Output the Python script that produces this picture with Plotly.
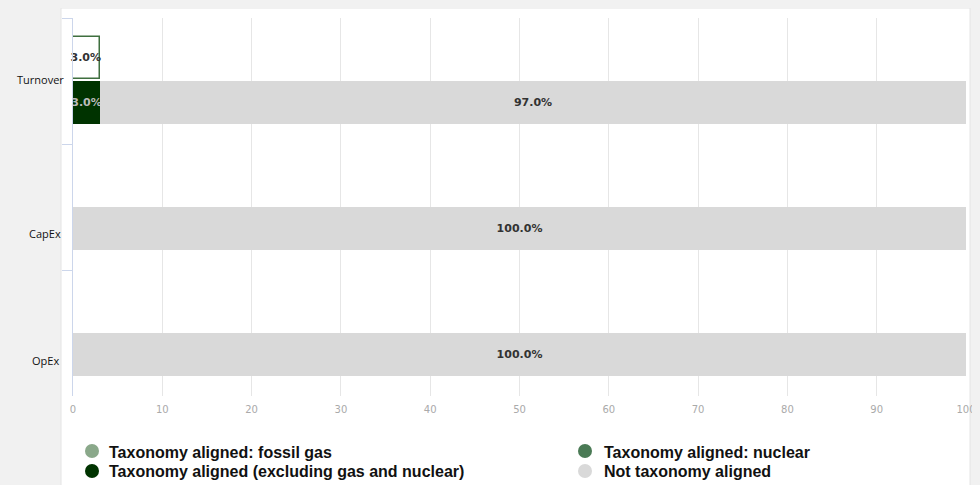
import plotly.graph_objects as go

categories = ["Turnover", "CapEx", "OpEx"]
aligned_excl = [3.0, 0.0, 0.0]
not_aligned = [97.0, 100.0, 100.0]
top_bar = [3.0, None, None]
legend_names = [
    "Taxonomy aligned: fossil gas",
    "Taxonomy aligned (excluding gas and nuclear)",
    "Taxonomy aligned: nuclear",
    "Not taxonomy aligned",
]
legend_colors = ["#8aa88a", "#003300", "#4a7a55", "#d9d9d9"]
x_ticks = [0, 10, 20, 30, 40, 50, 60, 70, 80, 90, 100]

# plot-area geometry (figure pixels)
L, R, T, B = 65, 958, 10, 388
PW, PH = R - L, B - T

def px(xf):
    return (xf - L) / PW

def py(yf):
    return (B - yf) / PH

def lbl(vals):
    return [f"{v:.1f}%" if (v is not None and v > 0) else "" for v in vals]

fig = go.Figure()
tf = dict(family="DejaVu Sans", size=11, color="#333333", weight="bold")

# upper bar (outlined)
fig.add_trace(go.Bar(
    y=categories, x=top_bar, base=0, orientation="h",
    offset=-0.35, width=0.335,
    marker=dict(color="#ffffff", line=dict(color="#3f6f3f", width=1.5)),
    text=lbl(top_bar), textposition="inside", insidetextanchor="middle",
    constraintext="none", textangle=0, textfont=tf, showlegend=False,
    hoverinfo="skip", cliponaxis=False))
# lower bars
fig.add_trace(go.Bar(
    y=categories, x=aligned_excl, base=0, orientation="h",
    offset=0.0, width=0.34,
    marker=dict(color="#003300", line=dict(width=0)),
    text=lbl(aligned_excl), textposition="inside", insidetextanchor="middle",
    constraintext="none", textangle=0,
    textfont=dict(family="DejaVu Sans", size=11, color="#bbbbbb", weight="bold"),
    showlegend=False, cliponaxis=False))
fig.add_trace(go.Bar(
    y=categories, x=not_aligned, base=aligned_excl, orientation="h",
    offset=0.0, width=0.34,
    marker=dict(color="#d9d9d9", line=dict(width=0)),
    text=lbl(not_aligned), textposition="inside", insidetextanchor="middle",
    constraintext="none", textangle=0, textfont=tf, showlegend=False,
    cliponaxis=False))

# white panel
fig.add_shape(type="rect", xref="paper", yref="paper",
              x0=px(53), x1=px(962), y0=py(490), y1=py(0),
              fillcolor="#ffffff", line=dict(color="#e4e4e4", width=1),
              layer="below")

# category labels
label_pos = [(58, 62, "right"), (37, 225, "center"), (37, 362, "center")]
for cat, (lx, ly, anc) in zip(categories, label_pos):
    fig.add_annotation(x=px(lx), xref="paper", y=py(ly), yref="paper",
                       text=cat, showarrow=False, xanchor=anc,
                       font=dict(family="Open Sans", size=11, color="#111111"))

# legend (two columns)
leg_text_x = [99, 99, 594, 594]
leg_mark_x = [84, 84, 577, 577]
leg_y = [444, 464, 444, 464]
for name, col, tx, mx, ly in zip(legend_names, legend_colors, leg_text_x, leg_mark_x, leg_y):
    fig.add_shape(type="circle", xref="paper", yref="paper",
                  xsizemode="pixel", ysizemode="pixel",
                  xanchor=px(mx), yanchor=py(ly - 1),
                  x0=-7, x1=7, y0=-7, y1=7,
                  fillcolor=col, line=dict(width=0))
    fig.add_annotation(x=px(tx), xref="paper", y=py(ly), yref="paper",
                       text=name, showarrow=False, xanchor="left", yanchor="middle",
                       font=dict(family="Liberation Sans", size=16, color="#111111",
                                 weight="bold"))

fig.update_layout(
    width=980, height=485,
    margin=dict(l=L, r=980 - R, t=T, b=485 - B, autoexpand=False),
    paper_bgcolor="#f1f1f1", plot_bgcolor="rgba(0,0,0,0)",
    barmode="overlay", bargap=0,
    font=dict(family="Liberation Sans"),
    showlegend=False,
    xaxis=dict(range=[0, 100], tickvals=x_ticks, showgrid=True, gridcolor="#e6e6e6",
               gridwidth=1, zeroline=False, showline=False, ticks="",
               tickfont=dict(family="DejaVu Sans", size=10, color="#aaaaaa"),
               ticklabelstandoff=6, fixedrange=True),
    yaxis=dict(type="category", categoryorder="array", categoryarray=categories,
               autorange="reversed", showticklabels=False, showgrid=False,
               showline=True, linecolor="#ccd6eb", linewidth=1,
               ticks="outside", tickson="boundaries", ticklen=10, tickcolor="#ccd6eb",
               zeroline=False),
)

fig.write_html("out.html", post_script="document.body.style.background='#f1f1f1';")
